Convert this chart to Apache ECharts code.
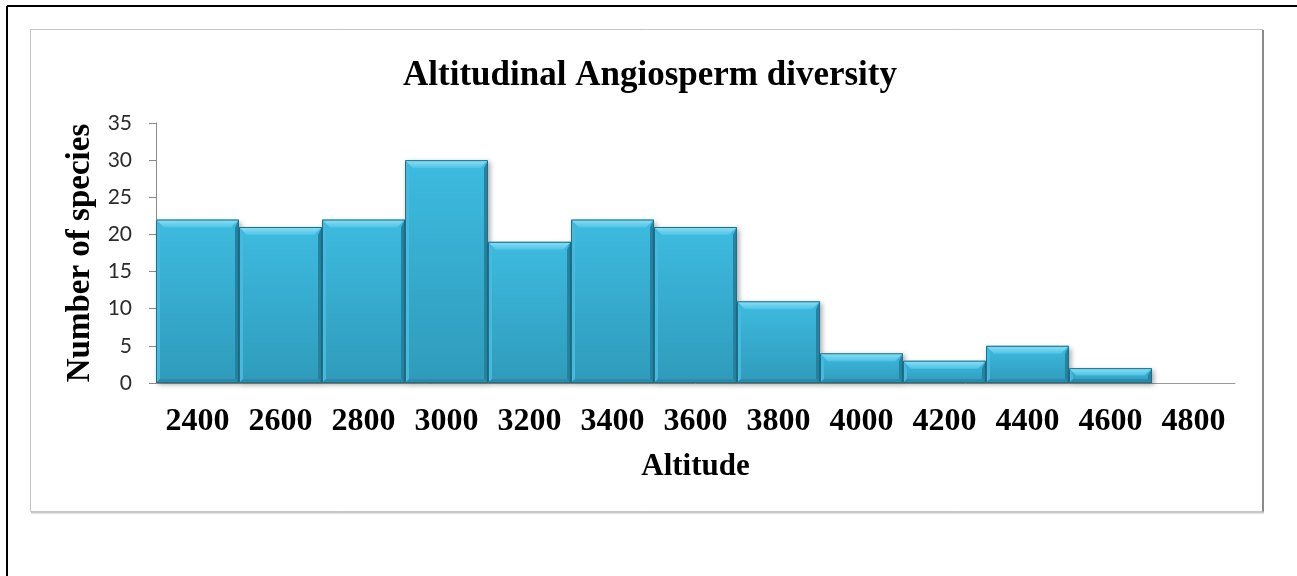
<!DOCTYPE html>
<html>
<head>
<meta charset="utf-8">
<script src="https://cdn.jsdelivr.net/npm/echarts@6/dist/echarts.min.js"></script>
<style>
  html, body { margin: 0; padding: 0; background: #ffffff; }
  #chart { width: 1297px; height: 576px; }
</style>
</head>
<body>
<div id="chart"></div>
<script>
// Altitude classes (m) and number of angiosperm species recorded in each
const altitudes = ['2400', '2600', '2800', '3000', '3200', '3400', '3600', '3800', '4000', '4200', '4400', '4600', '4800'];
const species = [22, 21, 22, 30, 19, 22, 21, 11, 4, 3, 5, 2, 0];
const yTicks = [0, 5, 10, 15, 20, 25, 30, 35];

const serif = '"Liberation Serif", "Times New Roman", serif';
const sans = 'Lato, "Open Sans", sans-serif';

// Beveled column, drawn edge to edge inside its category band
function renderBevelBar(params, api) {
  const idx = api.value(0);
  const val = api.value(1);
  if (!val) return null;
  const top = api.coord([idx, val]);
  const base = api.coord([idx, 0]);
  const w = api.size([1, 0])[0];
  const x0 = top[0] - w / 2, x1 = top[0] + w / 2;
  const y0 = top[1], y1 = base[1];
  const b = Math.min(8, (y1 - y0) / 2);
  const s = Math.min(4, (y1 - y0) / 2);
  return {
    type: 'group',
    children: [
      { // body
        type: 'rect',
        shape: { x: x0, y: y0, width: w, height: y1 - y0 },
        style: {
          fill: new echarts.graphic.LinearGradient(0, 0, 0, 1, [
            { offset: 0, color: '#3dbbe0' },
            { offset: 1, color: '#2f9bbb' }
          ]),
          shadowBlur: 5, shadowOffsetX: 2, shadowOffsetY: 2,
          shadowColor: 'rgba(0,0,0,0.35)'
        }
      },
      { // top bevel
        type: 'polygon',
        shape: { points: [[x0, y0], [x1, y0], [x1 - b, y0 + b], [x0 + b, y0 + b]] },
        style: {
          fill: new echarts.graphic.LinearGradient(0, 0, 0, 1, [
            { offset: 0, color: '#8fe0f5' },
            { offset: 1, color: '#4cc3e6' }
          ])
        }
      },
      { // left bevel
        type: 'polygon',
        shape: { points: [[x0, y0], [x0 + s, y0 + b], [x0 + s, y1 - s], [x0, y1]] },
        style: { fill: '#47b9dc' }
      },
      { // right bevel
        type: 'polygon',
        shape: { points: [[x1, y0], [x1 - s, y0 + b], [x1 - s, y1 - s], [x1, y1]] },
        style: { fill: '#2583a1' }
      },
      { // bottom bevel
        type: 'polygon',
        shape: { points: [[x0, y1], [x0 + s, y1 - s], [x1 - s, y1 - s], [x1, y1]] },
        style: { fill: '#2a8caa' }
      },
      { // outline
        type: 'rect',
        shape: { x: x0 + 0.5, y: y0 + 0.5, width: w - 1, height: y1 - y0 - 1 },
        style: { fill: null, stroke: '#1f6f88', lineWidth: 1 }
      }
    ]
  };
}

const chart = echarts.init(document.getElementById('chart'), null, { renderer: 'canvas' });
chart.setOption({
  backgroundColor: '#ffffff',
  animation: false,
  title: {
    text: 'Altitudinal Angiosperm diversity',
    left: 645,
    textAlign: 'center',
    top: 53,
    textStyle: { fontFamily: serif, fontWeight: 'bold', fontSize: 35, color: '#000000' }
  },
  graphic: [
    // page frame
    { type: 'line', shape: { x1: 7, y1: 6, x2: 1297, y2: 6 }, style: { stroke: '#000000', lineWidth: 2 }, silent: true },
    { type: 'line', shape: { x1: 7, y1: 6, x2: 7, y2: 576 }, style: { stroke: '#000000', lineWidth: 2 }, silent: true },
    // chart box
    { type: 'rect', shape: { x: 30.5, y: 29.5, width: 1232, height: 482 }, style: { fill: null, stroke: '#c4c4c4', lineWidth: 1 }, silent: true, z: -1 },
    { type: 'line', shape: { x1: 1263, y1: 30, x2: 1263, y2: 513 }, style: { stroke: '#8a8a8a', lineWidth: 2 }, silent: true },
    { type: 'line', shape: { x1: 31, y1: 512.5, x2: 1264, y2: 512.5 }, style: { stroke: '#c8c8c8', lineWidth: 2 }, silent: true }
  ],
  grid: { left: 156, right: 62, top: 123, bottom: 193, containLabel: false },
  xAxis: {
    type: 'category',
    data: altitudes,
    name: 'Altitude',
    nameLocation: 'middle',
    nameGap: 68,
    nameTextStyle: { fontFamily: serif, fontWeight: 'bold', fontSize: 31, color: '#000000' },
    axisLine: { show: true, lineStyle: { color: '#9a9a9a', width: 1 } },
    axisTick: { show: false },
    axisLabel: { margin: 23, fontFamily: serif, fontWeight: 'bold', fontSize: 32, color: '#000000', interval: 0 },
    splitLine: { show: false }
  },
  yAxis: {
    type: 'value',
    min: yTicks[0],
    max: yTicks[yTicks.length - 1],
    interval: yTicks[1] - yTicks[0],
    name: 'Number of species',
    nameLocation: 'middle',
    nameGap: 57,
    nameRotate: 90,
    nameTextStyle: { fontFamily: serif, fontWeight: 'bold', fontSize: 33, color: '#000000' },
    axisLine: { show: true, lineStyle: { color: '#8a8a8a', width: 1 } },
    axisTick: { show: true, inside: false, length: 7, lineStyle: { color: '#8a8a8a' } },
    axisLabel: { margin: 24, fontFamily: sans, fontSize: 21, color: '#2b2b2b' },
    splitLine: { show: false }
  },
  series: [{
    type: 'custom',
    renderItem: renderBevelBar,
    encode: { x: 0, y: 1 },
    data: species.map((v, i) => [i, v]),
    z: 3
  }]
});
</script>
</body>
</html>
